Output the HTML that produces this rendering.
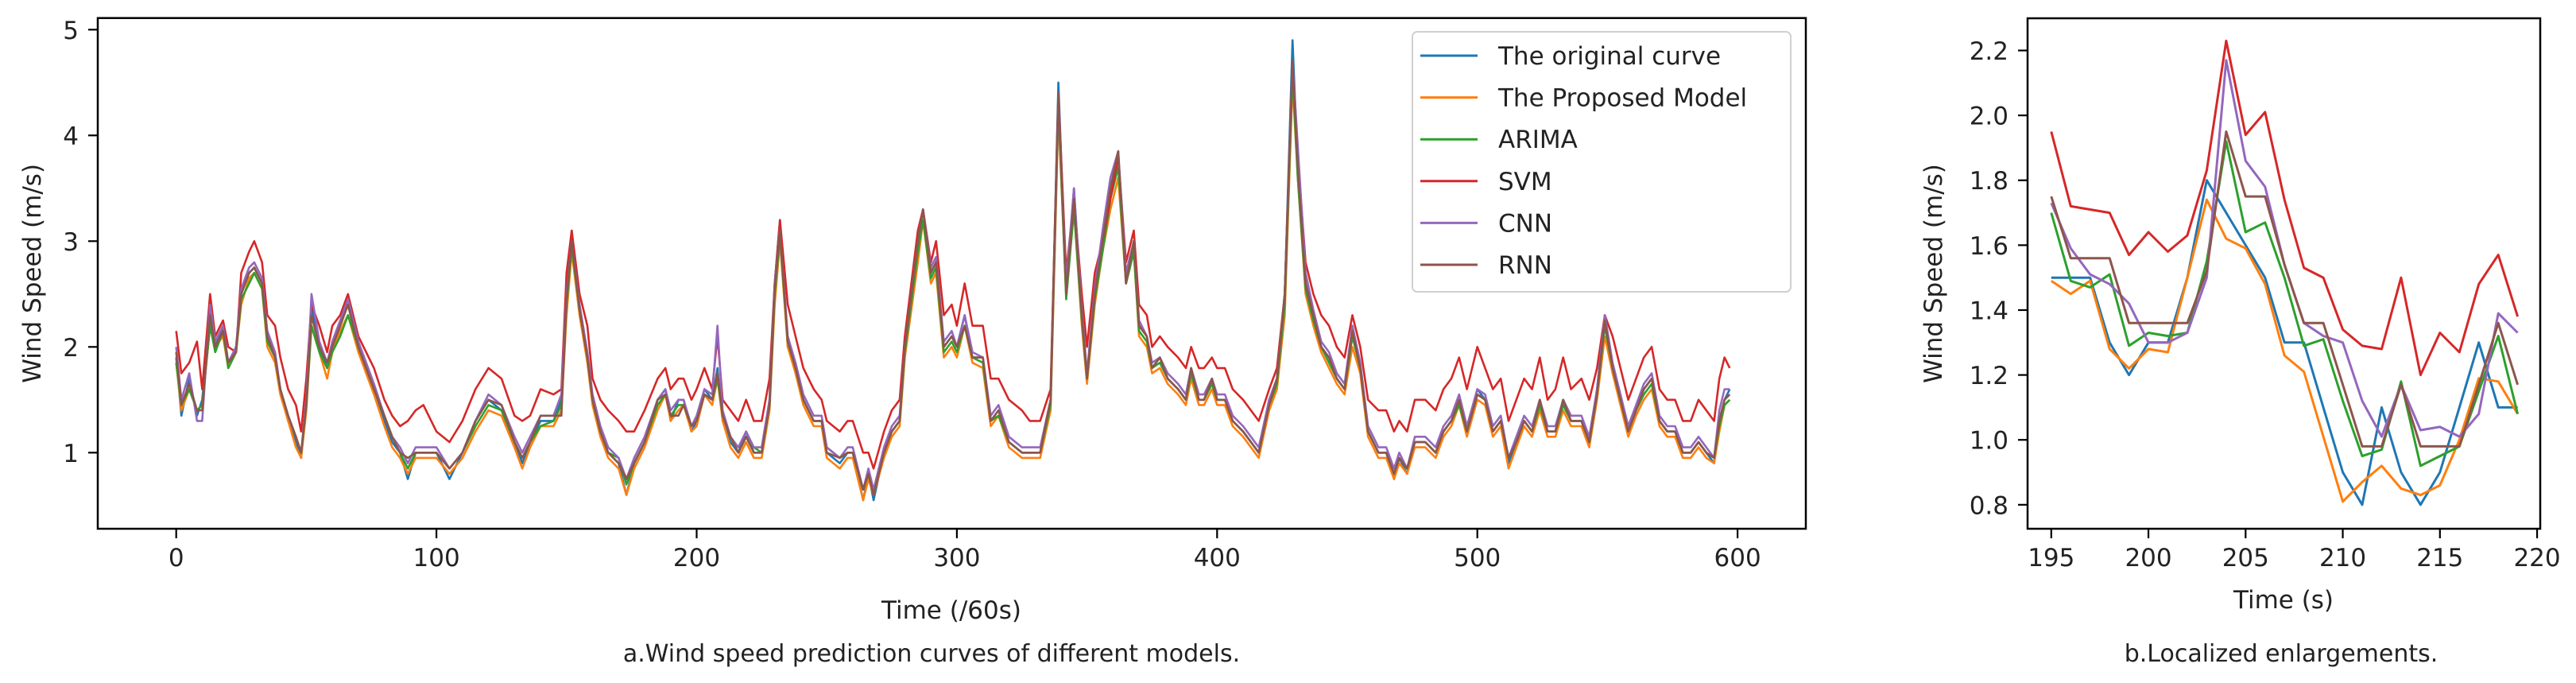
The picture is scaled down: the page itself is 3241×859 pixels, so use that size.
<!DOCTYPE html>
<html><head><meta charset="utf-8"><style>
html,body{margin:0;padding:0;background:#fff;}
svg{display:block;font-family:"DejaVu Sans","Liberation Sans",sans-serif;}
</style></head><body>
<svg id="fig" width="3241" height="859" viewBox="0 0 3241 859" xmlns="http://www.w3.org/2000/svg">
<rect width="3241" height="859" fill="#fff"/>
<g id="main"></g>
<g id="zoomc"></g>
<text x="1172" y="832" font-size="30" text-anchor="middle" fill="#222">a.Wind speed prediction curves of different models.</text>
<text x="2870" y="832" font-size="30" text-anchor="middle" fill="#222">b.Localized enlargements.</text>
</svg>
<script>
const X = [0,2,5,8,10,13,15,18,20,23,25,28,30,33,35,38,40,43,46,48,50,52,55,58,60,63,66,70,73,76,80,83,86,89,92,95,100,105,110,115,120,125,130,133,136,140,145,148,150,152,155,158,160,163,166,170,173,176,180,185,188,190,193,195,198,200,203,206,208,210,213,216,219,222,225,228,230,232,235,238,241,245,248,250,255,258,260,264,266,268,272,275,278,280,285,287,290,292,295,298,300,303,306,310,313,316,320,325,328,332,336,339,342,345,348,350,353,356,359,362,365,368,370,373,375,378,381,385,388,390,393,395,398,400,403,406,410,413,416,420,423,426,429,431,434,437,440,443,446,449,452,455,458,462,465,468,470,473,476,480,484,487,490,493,496,500,503,506,509,512,515,518,521,524,527,530,533,536,540,543,546,549,552,555,558,561,564,567,570,573,576,579,582,585,588,591,593,595,597];
const ORIG = [1.9,1.35,1.7,1.35,1.5,2.3,2.0,2.2,1.85,2.0, 2.5,2.7,2.75,2.6,2.1,1.9,1.6,1.3,1.1,0.95, 1.5,2.4,2.0,1.8,2.0,2.2,2.4,2.0,1.8,1.6, 1.3,1.1,1.0,0.75,1.0,1.0,1.0,0.75,1.0,1.3, 1.5,1.4,1.1,0.9,1.1,1.3,1.3,1.5,2.5,3.1, 2.3,1.9,1.5,1.2,1.0,0.9,0.6,0.9,1.1,1.5, 1.6,1.3,1.5,1.5,1.2,1.3,1.6,1.5,1.8,1.3, 1.1,1.0,1.2,1.0,1.0,1.5,2.6,3.2,2.0,1.8, 1.5,1.3,1.3,1.0,0.9,1.0,1.0,0.55,0.8,0.55, 1.0,1.2,1.3,2.0,3.0,3.3,2.7,2.8,2.0,2.1, 2.0,2.3,1.9,1.9,1.3,1.4,1.1,1.0,1.0,1.0, 1.5,4.5,2.5,3.5,2.3,1.7,2.5,3.0,3.5,3.8, 2.6,3.0,2.2,2.1,1.8,1.9,1.7,1.6,1.5,1.8, 1.5,1.5,1.7,1.5,1.5,1.3,1.2,1.1,1.0,1.5, 1.7,2.5,4.9,3.7,2.6,2.3,2.0,1.9,1.7,1.6, 2.2,1.8,1.2,1.0,1.0,0.75,0.95,0.8,1.1,1.1, 1.0,1.2,1.3,1.5,1.2,1.6,1.5,1.2,1.3,0.9, 1.1,1.3,1.2,1.5,1.2,1.2,1.5,1.3,1.3,1.1, 1.6,2.3,1.8,1.5,1.2,1.4,1.6,1.7,1.3,1.2, 1.2,1.0,1.0,1.1,1.0,0.9,1.3,1.5,1.6];
const PROP = [1.85,1.4,1.6,1.4,1.45,2.2,2.0,2.1,1.8,1.95, 2.4,2.65,2.7,2.55,2.0,1.85,1.55,1.3,1.05,0.95, 1.4,2.2,1.95,1.7,1.95,2.15,2.3,1.95,1.75,1.55, 1.25,1.05,0.95,0.8,0.95,0.95,0.95,0.8,0.95,1.2, 1.4,1.35,1.05,0.85,1.05,1.25,1.25,1.4,2.3,2.9, 2.3,1.85,1.45,1.15,0.95,0.85,0.6,0.85,1.05,1.4, 1.55,1.3,1.4,1.45,1.2,1.25,1.55,1.45,1.7,1.3, 1.05,0.95,1.1,0.95,0.95,1.4,2.4,3.0,2.0,1.75, 1.45,1.25,1.25,0.95,0.85,0.95,0.95,0.55,0.75,0.6, 0.95,1.15,1.25,1.9,2.8,3.2,2.6,2.7,1.9,2.0, 1.9,2.2,1.85,1.8,1.25,1.35,1.05,0.95,0.95,0.95, 1.4,4.2,2.5,3.3,2.2,1.65,2.4,2.9,3.3,3.6, 2.6,2.9,2.1,2.0,1.75,1.8,1.65,1.55,1.45,1.7, 1.45,1.45,1.6,1.45,1.45,1.25,1.15,1.05,0.95,1.4, 1.6,2.3,4.5,3.6,2.5,2.2,1.95,1.8,1.65,1.55, 2.0,1.75,1.15,0.95,0.95,0.75,0.9,0.8,1.05,1.05, 0.95,1.15,1.25,1.45,1.15,1.5,1.45,1.15,1.25,0.85, 1.05,1.25,1.15,1.4,1.15,1.15,1.4,1.25,1.25,1.05, 1.5,2.1,1.75,1.45,1.15,1.35,1.5,1.6,1.25,1.15, 1.15,0.95,0.95,1.05,0.95,0.9,1.2,1.45,1.5];
const ARIMA = [1.85,1.45,1.6,1.4,1.45,2.2,1.95,2.15,1.8,1.95, 2.45,2.6,2.7,2.55,2.05,1.9,1.6,1.35,1.15,1.0, 1.45,2.2,1.95,1.8,1.95,2.1,2.3,2.0,1.8,1.6, 1.35,1.15,1.0,0.85,1.0,1.0,1.0,0.85,1.0,1.25, 1.45,1.4,1.1,0.95,1.1,1.25,1.3,1.45,2.4,2.95, 2.35,1.9,1.5,1.2,1.0,0.95,0.7,0.9,1.1,1.45, 1.55,1.35,1.45,1.45,1.25,1.3,1.55,1.5,1.7,1.35, 1.15,1.0,1.15,1.05,1.0,1.45,2.5,3.05,2.05,1.8, 1.5,1.3,1.3,1.05,0.95,1.0,1.0,0.65,0.8,0.65, 1.0,1.2,1.3,1.95,2.9,3.2,2.65,2.75,1.95,2.05, 1.95,2.2,1.9,1.85,1.3,1.35,1.1,1.0,1.0,1.0, 1.45,4.3,2.45,3.3,2.25,1.7,2.45,2.9,3.4,3.7, 2.6,2.9,2.15,2.05,1.8,1.85,1.7,1.6,1.5,1.75, 1.5,1.5,1.65,1.5,1.5,1.3,1.2,1.1,1.0,1.45, 1.65,2.4,4.6,3.6,2.55,2.25,2.0,1.85,1.7,1.6, 2.1,1.8,1.2,1.0,1.0,0.8,0.95,0.85,1.1,1.1, 1.0,1.2,1.3,1.45,1.2,1.55,1.5,1.2,1.3,0.95, 1.1,1.3,1.2,1.45,1.2,1.2,1.45,1.3,1.3,1.1, 1.55,2.2,1.8,1.5,1.2,1.4,1.55,1.65,1.3,1.2, 1.2,1.0,1.0,1.1,1.0,0.95,1.25,1.45,1.5];
const SVM = [2.15,1.75,1.85,2.05,1.6,2.5,2.1,2.25,2.0,1.95, 2.7,2.9,3.0,2.8,2.3,2.2,1.9,1.6,1.45,1.2, 1.7,2.4,2.2,1.95,2.2,2.3,2.5,2.1,1.95,1.8, 1.5,1.35,1.25,1.3,1.4,1.45,1.2,1.1,1.3,1.6, 1.8,1.7,1.35,1.3,1.35,1.6,1.55,1.6,2.7,3.1, 2.5,2.2,1.7,1.5,1.4,1.3,1.2,1.2,1.4,1.7, 1.8,1.6,1.7,1.7,1.5,1.6,1.8,1.6,2.1,1.5, 1.4,1.3,1.5,1.3,1.3,1.7,2.6,3.2,2.4,2.1, 1.8,1.6,1.5,1.3,1.2,1.3,1.3,1.0,1.0,0.85, 1.2,1.4,1.5,2.1,3.1,3.3,2.8,3.0,2.3,2.4, 2.2,2.6,2.2,2.2,1.7,1.7,1.5,1.4,1.3,1.3, 1.6,4.4,2.7,3.4,2.5,2.0,2.7,3.0,3.4,3.8, 2.8,3.1,2.4,2.3,2.0,2.1,2.0,1.9,1.8,2.0, 1.8,1.8,1.9,1.8,1.8,1.6,1.5,1.4,1.3,1.6, 1.8,2.5,4.7,3.8,2.8,2.5,2.3,2.2,2.0,1.9, 2.3,2.0,1.5,1.4,1.4,1.2,1.3,1.2,1.5,1.5, 1.4,1.6,1.7,1.9,1.6,2.0,1.8,1.6,1.7,1.3, 1.5,1.7,1.6,1.9,1.5,1.6,1.9,1.6,1.7,1.5, 1.8,2.3,2.1,1.8,1.5,1.7,1.9,2.0,1.6,1.5, 1.5,1.3,1.3,1.5,1.4,1.3,1.7,1.9,1.8];
const CNN = [2.0,1.5,1.75,1.3,1.3,2.4,2.05,2.2,1.85,2.0, 2.55,2.75,2.8,2.65,2.15,1.95,1.6,1.35,1.15,1.0, 1.5,2.5,2.05,1.85,2.05,2.25,2.45,2.05,1.85,1.65, 1.35,1.15,1.05,0.9,1.05,1.05,1.05,0.85,1.0,1.3, 1.55,1.45,1.15,1.0,1.15,1.35,1.35,1.55,2.5,3.0, 2.4,1.95,1.55,1.25,1.05,0.95,0.75,0.95,1.15,1.5, 1.6,1.4,1.5,1.5,1.25,1.35,1.6,1.55,2.2,1.4, 1.15,1.05,1.2,1.05,1.05,1.5,2.6,3.1,2.1,1.85, 1.55,1.35,1.35,1.05,0.95,1.05,1.05,0.65,0.85,0.65, 1.05,1.25,1.35,2.0,3.0,3.3,2.75,2.85,2.05,2.15, 2.0,2.3,1.95,1.9,1.35,1.45,1.15,1.05,1.05,1.05, 1.5,4.35,2.6,3.5,2.35,1.75,2.55,3.1,3.6,3.85, 2.7,3.0,2.25,2.1,1.85,1.9,1.75,1.65,1.55,1.8, 1.55,1.55,1.7,1.55,1.55,1.35,1.25,1.15,1.05,1.5, 1.7,2.5,4.7,3.9,2.7,2.35,2.05,1.95,1.75,1.65, 2.2,1.85,1.25,1.05,1.05,0.85,1.0,0.85,1.15,1.15, 1.05,1.25,1.35,1.55,1.25,1.6,1.55,1.25,1.35,0.95, 1.15,1.35,1.25,1.5,1.25,1.25,1.5,1.35,1.35,1.15, 1.6,2.3,1.85,1.55,1.25,1.45,1.65,1.75,1.35,1.25, 1.25,1.05,1.05,1.15,1.05,0.95,1.4,1.6,1.6];
const RNN = [1.95,1.45,1.65,1.4,1.4,2.3,2.0,2.15,1.85,1.95, 2.5,2.7,2.75,2.6,2.1,1.9,1.6,1.35,1.15,1.0, 1.45,2.3,2.0,1.85,2.0,2.2,2.4,2.0,1.8,1.6, 1.35,1.15,1.0,0.95,1.0,1.0,1.0,0.85,1.0,1.3, 1.5,1.45,1.1,0.95,1.1,1.35,1.35,1.35,2.45,3.0, 2.35,1.9,1.5,1.2,1.0,0.9,0.75,0.9,1.1,1.5, 1.55,1.35,1.35,1.45,1.25,1.3,1.55,1.5,1.75,1.35, 1.15,1.0,1.15,1.0,1.0,1.45,2.55,3.1,2.05,1.8, 1.5,1.3,1.3,1.0,0.95,1.0,1.0,0.65,0.8,0.6, 1.0,1.2,1.3,2.0,3.0,3.3,2.7,2.8,2.0,2.1, 2.0,2.2,1.9,1.9,1.3,1.4,1.1,1.0,1.0,1.0, 1.5,4.4,2.5,3.4,2.3,1.7,2.5,3.0,3.5,3.85, 2.6,3.0,2.2,2.1,1.8,1.9,1.7,1.6,1.5,1.8, 1.5,1.5,1.7,1.5,1.5,1.3,1.2,1.1,1.0,1.45, 1.7,2.5,4.7,3.7,2.6,2.3,2.0,1.9,1.7,1.6, 2.15,1.8,1.2,1.0,1.0,0.8,0.95,0.85,1.1,1.1, 1.0,1.2,1.3,1.5,1.2,1.55,1.5,1.2,1.3,0.95, 1.1,1.3,1.2,1.5,1.2,1.2,1.5,1.3,1.3,1.1, 1.55,2.25,1.8,1.5,1.2,1.4,1.6,1.7,1.3,1.2, 1.2,1.0,1.0,1.1,1.0,0.95,1.3,1.5,1.55];

const ZX = [195,196,197,198,199,200,201,202,203,204,205,206,207,208,209,210,211,212,213,214,215,216,217,218,219];
const Z_ORIG = [1.5,1.5,1.5,1.3,1.2,1.3,1.3,1.5,1.8,1.7,1.6,1.5,1.3,1.3,1.1,0.9,0.8,1.1,0.9,0.8,0.9,1.1,1.3,1.1,1.1];
const Z_PROP = [1.49,1.45,1.49,1.28,1.22,1.28,1.27,1.5,1.74,1.62,1.59,1.48,1.26,1.21,1.01,0.81,0.87,0.92,0.85,0.83,0.86,1.0,1.19,1.18,1.08];
const Z_ARIMA = [1.7,1.49,1.47,1.51,1.29,1.33,1.32,1.33,1.55,1.92,1.64,1.67,1.5,1.29,1.31,1.12,0.95,0.97,1.18,0.92,0.95,0.98,1.15,1.32,1.08];
const Z_SVM = [1.95,1.72,1.71,1.70,1.57,1.64,1.58,1.63,1.83,2.23,1.94,2.01,1.74,1.53,1.50,1.34,1.29,1.28,1.50,1.20,1.33,1.27,1.48,1.57,1.38];
const Z_CNN = [1.73,1.59,1.51,1.48,1.42,1.30,1.30,1.33,1.50,2.17,1.86,1.78,1.54,1.36,1.32,1.30,1.12,1.01,1.17,1.03,1.04,1.01,1.08,1.39,1.33];
const Z_RNN = [1.75,1.56,1.56,1.56,1.36,1.36,1.36,1.36,1.52,1.95,1.75,1.75,1.54,1.36,1.36,1.17,0.98,0.98,1.17,0.98,0.98,0.98,1.17,1.36,1.17];

const MAIN_XTICKS = [0,100,200,300,400,500,600];
const MAIN_YTICKS = [1,2,3,4,5];
const ZOOM_XTICKS = [195,200,205,210,215,220];
const ZOOM_YTICKS = [0.8,1.0,1.2,1.4,1.6,1.8,2.0,2.2];
const SERIES_NAMES = ["The original curve","The Proposed Model","ARIMA","SVM","CNN","RNN"];
const COLORS = ["#1f77b4","#ff7f0e","#2ca02c","#d62728","#9467bd","#8c564b"];

const NS = "http://www.w3.org/2000/svg";
function mk(parent, tag, attrs, text){
  const e = document.createElementNS(NS, tag);
  for (const k in attrs) e.setAttribute(k, attrs[k]);
  if (text !== undefined) e.textContent = text;
  parent.appendChild(e);
  return e;
}
const mx = v => 221.7 + v * 3.274;
const my = v => 569.3 - (v - 1) * 133;
const zx = v => 2580.8 + (v - 195) * 24.45;
const zy = v => 63.5 + (2.2 - v) * 408.1;

function drawChart(g, L, T, R, B, xs, sx, sy, xt, yt, yfmt, seriesList, xl, ylx, ylabel, xlabel, xlabelY, sw){
  const clipId = g.id + "-clip";
  const defs = mk(g, "defs", {});
  const cp = mk(defs, "clipPath", {id: clipId});
  mk(cp, "rect", {x: L, y: T, width: R - L, height: B - T});
  const lines = mk(g, "g", {"clip-path": "url(#" + clipId + ")"});
  
  
  seriesList.forEach((vals, i) => {
    const n = Math.min(xs.length, vals.length);
    let d = "";
    for (let k = 0; k < n; k++) d += (k ? "L" : "M") + sx(xs[k]).toFixed(1) + " " + sy(vals[k]).toFixed(1);
    const p = mk(lines, "path", {d: d, fill: "none", stroke: COLORS[i], "stroke-width": sw, "stroke-linejoin": "round"});
    
    
  });
  const frame = mk(g, "rect", {x: L, y: T, width: R - L, height: B - T, fill: "none", stroke: "#000", "stroke-width": 2.5});
  
  
  xt.forEach(v => {
    const x = sx(v);
    mk(g, "line", {x1: x, y1: B, x2: x, y2: B + 12, stroke: "#000", "stroke-width": 2.2});
    const t = mk(g, "text", {x: x, y: B + 47, "font-size": 31, "text-anchor": "middle", fill: "#222"}, String(v));
    
    
  });
  yt.forEach(v => {
    const y = sy(v);
    mk(g, "line", {x1: L, y1: y, x2: L - 12, y2: y, stroke: "#000", "stroke-width": 2.2});
    const t = mk(g, "text", {x: L - 24, y: y + 11.5, "font-size": 31, "text-anchor": "end", fill: "#222"}, yfmt(v));
    
    
  });
  const xlab = mk(g, "text", {x: xl, y: xlabelY, "font-size": 31, "text-anchor": "middle", fill: "#222"}, xlabel);
  
  
  const cy = (T + B) / 2;
  const ylab = mk(g, "text", {x: ylx, y: cy, "font-size": 31, "text-anchor": "middle", fill: "#222", transform: "rotate(-90 " + ylx + " " + cy + ")"}, ylabel);
  
  
}

drawChart(document.getElementById("main"), 123, 22.7, 2272, 665, X, mx, my,
  MAIN_XTICKS, MAIN_YTICKS, v => String(v),
  [ORIG, PROP, ARIMA, SVM, CNN, RNN], 1197, 51, "Wind Speed (m/s)", "Time (/60s)", 778, 2.6);
drawChart(document.getElementById("zoomc"), 2551, 23, 3196, 665, ZX, zx, zy,
  ZOOM_XTICKS, ZOOM_YTICKS, v => v.toFixed(1),
  [Z_ORIG, Z_PROP, Z_ARIMA, Z_SVM, Z_CNN, Z_RNN], 2873, 2443, "Wind Speed (m/s)", "Time (s)", 765, 3);

const main = document.getElementById("main");
const leg = mk(main, "g", {});


mk(leg, "rect", {x: 1777, y: 40, width: 476, height: 327, rx: 6, fill: "#fff", "fill-opacity": 0.85, stroke: "#d0d0d0", "stroke-width": 2});
SERIES_NAMES.forEach((name, i) => {
  const y = 70 + i * 52.6;
  const en = mk(leg, "g", {});
  
  
  mk(en, "line", {x1: 1787, y1: y, x2: 1859, y2: y, stroke: COLORS[i], "stroke-width": 3});
  mk(en, "text", {x: 1885, y: y + 11, "font-size": 31, fill: "#222"}, name);
});
</script>
</body></html>
